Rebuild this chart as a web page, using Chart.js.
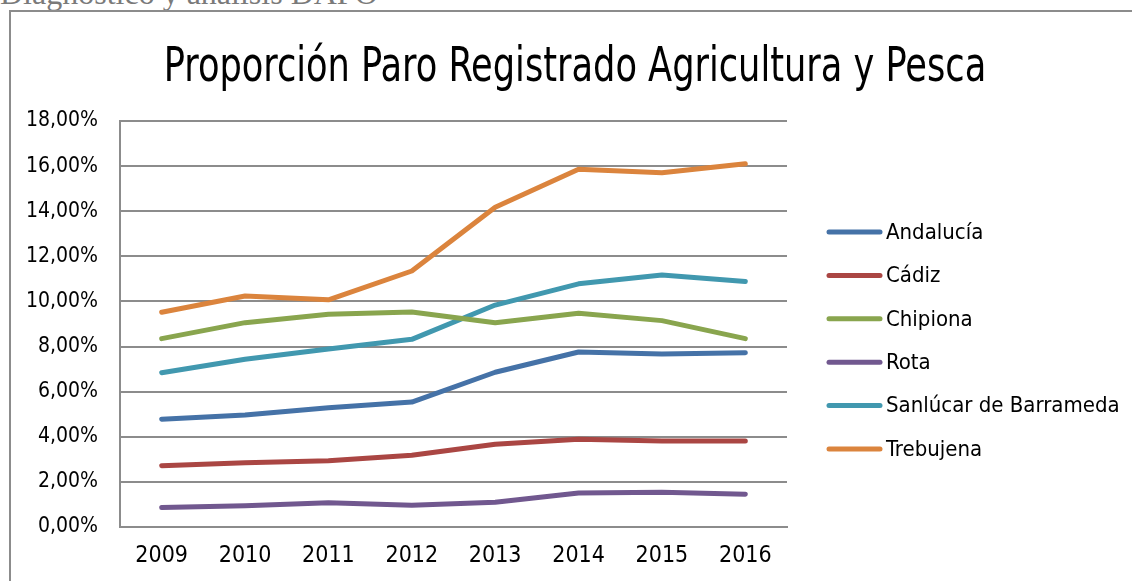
<!DOCTYPE html>
<html lang="es">
<head>
<meta charset="UTF-8">
<script src="https://cdn.jsdelivr.net/npm/chart.js@4.4.0/dist/chart.umd.min.js"></script>
<title>Proporción Paro Registrado Agricultura y Pesca</title>
<style>
  body { margin:0; background:#fff; width:1132px; height:581px; overflow:hidden; position:relative; }
  #header { position:absolute; left:0; top:-22px; font-family:"Liberation Serif", serif; font-size:32px; line-height:31px; color:#7a7a7a; white-space:nowrap; }
  #frame { position:absolute; left:9px; top:10px; width:1140px; height:590px; border-top:2px solid #8c8c8c; border-left:2px solid #8c8c8c; }
  #box { position:absolute; left:11px; top:12px; width:1121px; height:569px; }
  #title { position:absolute; left:575px; top:40px; font-family:"DejaVu Sans Condensed", "DejaVu Sans", sans-serif; font-size:48px; line-height:48px; color:#000; white-space:nowrap; transform:translateX(-50%) scaleX(0.815); }
</style>
</head>
<body>
<div id="header">Diagnóstico y análisis DAFO</div>
<div id="frame"></div>
<div id="box"><canvas id="chart"></canvas></div>
<div id="title">Proporción Paro Registrado Agricultura y Pesca</div>
<script>
var years = ["2009", "2010", "2011", "2012", "2013", "2014", "2015", "2016"];
var andalucia = [4.78, 4.97, 5.29, 5.54, 6.86, 7.76, 7.67, 7.73];
var cadiz = [2.72, 2.85, 2.94, 3.18, 3.67, 3.89, 3.81, 3.81];
var chipiona = [8.35, 9.06, 9.43, 9.53, 9.06, 9.48, 9.15, 8.35];
var rota = [0.86, 0.94, 1.08, 0.96, 1.10, 1.51, 1.54, 1.45];
var sanlucar = [6.84, 7.44, 7.89, 8.32, 9.84, 10.78, 11.17, 10.88];
var trebujena = [9.52, 10.24, 10.07, 11.35, 14.18, 15.86, 15.71, 16.10];

var cond = '"DejaVu Sans Condensed", "DejaVu Sans", sans-serif';

function serie(label, data, color) {
  return {
    label: label, data: data,
    borderColor: color, backgroundColor: color,
    borderWidth: 5, pointRadius: 0, tension: 0,
    borderCapStyle: 'round', borderJoinStyle: 'round'
  };
}

// legend drawn at the right of the plot: line sample + label
var sideLegend = {
  id: 'sideLegend',
  afterDraw: function (chart) {
    var ctx = chart.ctx, area = chart.chartArea;
    var x0 = area.right + 40, top = area.top + 111, step = 43.4;
    ctx.save();
    ctx.font = '22px ' + cond;
    ctx.textBaseline = 'middle';
    ctx.lineCap = 'round';
    chart.data.datasets.forEach(function (ds, i) {
      var y = top + i * step;
      ctx.strokeStyle = ds.borderColor;
      ctx.lineWidth = 5;
      ctx.beginPath();
      ctx.moveTo(x0 + 2, y);
      ctx.lineTo(x0 + 53, y);
      ctx.stroke();
      ctx.fillStyle = '#000';
      ctx.fillText(ds.label, x0 + 59, y + 1);
    });
    ctx.restore();
  }
};

new Chart(document.getElementById("chart"), {
  type: 'line',
  data: {
    labels: years,
    datasets: [
      serie("Andalucía", andalucia, "#4572A7"),
      serie("Cádiz", cadiz, "#AA4643"),
      serie("Chipiona", chipiona, "#89A54E"),
      serie("Rota", rota, "#71588F"),
      serie("Sanlúcar de Barrameda", sanlucar, "#4198AF"),
      serie("Trebujena", trebujena, "#DB843D")
    ]
  },
  plugins: [sideLegend],
  options: {
    responsive: true,
    maintainAspectRatio: false,
    animation: false,
    layout: { padding: { left: 0, right: 345, top: 109, bottom: 0 } },
    plugins: {
      title: { display: false },
      legend: { display: false },
      tooltip: { enabled: false }
    },
    scales: {
      x: {
        offset: true,
        grid: { display: false, drawTicks: false },
        border: { display: true, color: '#8c8c8c', width: 2 },
        ticks: { color: '#000', font: { family: cond, size: 23 }, padding: 15 },
        afterFit: function (scale) { scale.height = 54; }
      },
      y: {
        min: 0, max: 18,
        grid: { color: '#8c8c8c', lineWidth: 2, drawTicks: false },
        border: { display: true, color: '#8c8c8c', width: 2 },
        ticks: {
          stepSize: 2,
          color: '#000',
          font: { family: cond, size: 21 },
          padding: 22,
          callback: function (v) { return v.toFixed(2).replace('.', ',') + '%'; }
        },
        afterFit: function (scale) { scale.width = 109; }
      }
    }
  }
});
</script>
</body>
</html>
